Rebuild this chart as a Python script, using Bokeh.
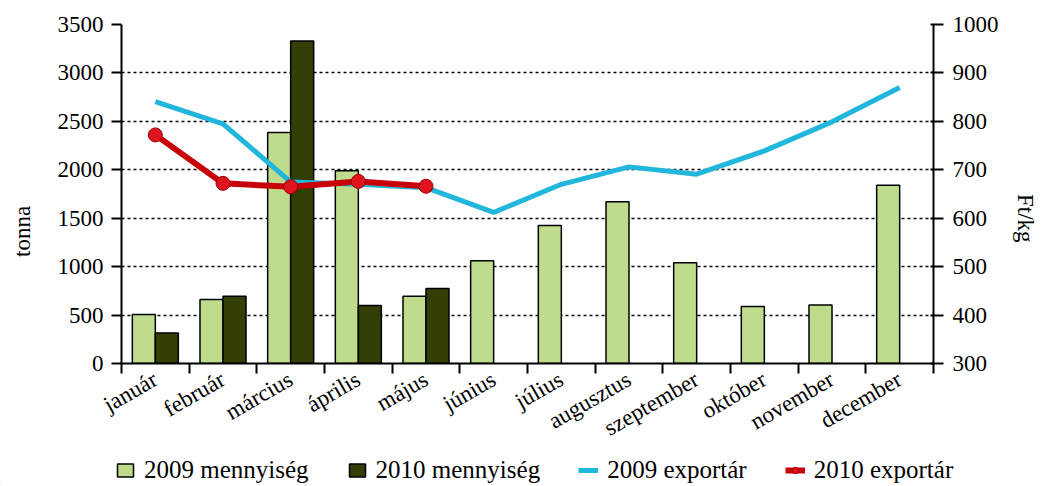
from bokeh.plotting import figure
from bokeh.models import (Range1d, LinearAxis, FixedTicker, Legend, LegendItem)
from bokeh.layouts import column, row
from bokeh.embed import file_html
from bokeh.resources import INLINE
import math

months = ["január", "február", "március", "április", "május", "június",
          "július", "augusztus", "szeptember", "október", "november", "december"]
q2009 = [505, 660, 2385, 1990, 695, 1060, 1425, 1670, 1040, 588, 605, 1840]
q2010 = [315, 695, 3330, 600, 775]
p2009 = [841, 795, 675, 670, 663, 612, 670, 706, 691, 739, 799, 870]
p2010 = [772, 672, 665, 676, 666]

left_ticks = [0, 500, 1000, 1500, 2000, 2500, 3000, 3500]
right_ticks = [300, 400, 500, 600, 700, 800, 900, 1000]
series_names = ["2009 mennyiség", "2010 mennyiség", "2009 exportár", "2010 exportár"]

FONT = "Liberation Serif"
C09Q, C10Q, C09P, C10P = "#BEDC8C", "#323F06", "#21B6DC", "#C8000A"
NB = "\u00a0" * 13

W = 1053
centers = [i + 0.5 for i in range(len(months))]
x09 = [c - 0.17 for c in centers]
x10 = [c + 0.17 for c in centers[:len(q2010)]]

p = figure(width=W, height=454, output_backend="svg", toolbar_location=None,
           x_range=Range1d(0, 12), y_range=Range1d(0, 3500),
           min_border_left=121, min_border_right=W - 937, min_border_top=24,
           min_border_bottom=91)
p.outline_line_color = None
p.extra_y_ranges = {"price": Range1d(300, 1000)}

p.xgrid.visible = False
p.ygrid.ticker = FixedTicker(ticks=left_ticks[1:])
p.ygrid.grid_line_color = "black"
p.ygrid.grid_line_dash = "3 3"
p.ygrid.grid_line_width = 1.5

p.vbar(x=x09, top=q2009, width=0.34, fill_color=C09Q, line_color="black", line_width=1.5)
p.vbar(x=x10, top=q2010, width=0.34, fill_color=C10Q, line_color="black", line_width=1.5)
p.line(x=centers, y=p2009, line_color=C09P, line_width=5, y_range_name="price")
p.line(x=centers[:len(p2010)], y=p2010, line_color=C10P, line_width=6, y_range_name="price")
p.scatter(x=centers[:len(p2010)], y=p2010, size=14, marker="circle", fill_color="#E0141E",
          line_color="#9A0008", line_width=1, y_range_name="price")

xa = p.xaxis[0]
xa.ticker = FixedTicker(ticks=centers, minor_ticks=list(range(13)))
xa.major_label_overrides = {c: m for c, m in zip(centers, months)}
xa.major_tick_out = 0
xa.major_tick_in = 0
xa.minor_tick_out = 10
xa.minor_tick_in = 0
xa.minor_tick_line_color = "black"
xa.minor_tick_line_width = 2
xa.axis_line_width = 2
xa.axis_line_color = "black"
xa.major_label_orientation = math.radians(30)
xa.major_label_text_font = FONT
xa.major_label_text_font_size = "23px"
xa.major_label_text_color = "black"
xa.major_label_standoff = 4

ya = p.yaxis[0]
ya.ticker = FixedTicker(ticks=left_ticks)
ya.major_tick_out = 10
ya.major_tick_in = 0
ya.minor_tick_line_color = None
ya.axis_line_width = 2
ya.major_tick_line_width = 2
ya.major_label_standoff = 8
ya.major_label_text_font = FONT
ya.major_label_text_font_size = "23px"
ya.major_label_text_color = "black"
ya.axis_label = "tonna" + NB
ya.axis_label_text_font = FONT
ya.axis_label_text_font_size = "23px"
ya.axis_label_text_font_style = "normal"
ya.axis_label_text_color = "black"
ya.axis_label_standoff = 20

ra = LinearAxis(y_range_name="price", ticker=FixedTicker(ticks=right_ticks))
ra.major_tick_out = 10
ra.major_tick_in = 3
ra.minor_tick_line_color = None
ra.axis_line_width = 2
ra.major_tick_line_width = 2
ra.major_label_standoff = 9
ra.major_label_text_font = FONT
ra.major_label_text_font_size = "23px"
ra.major_label_text_color = "black"
ra.axis_label = "Ft/kg" + NB
ra.axis_label_text_font = FONT
ra.axis_label_text_font_size = "23px"
ra.axis_label_text_font_style = "normal"
ra.axis_label_text_color = "black"
ra.axis_label_standoff = 24
ra.axis_label_orientation = -math.pi / 2
p.add_layout(ra, "right")

# legend strip (separate figure so the legend is not clipped by the chart frame)
LH = 31
lf = figure(width=W, height=LH, output_backend="svg", toolbar_location=None,
            x_range=Range1d(0, 10), y_range=Range1d(0, 10), x_axis_type=None, y_axis_type=None,
            min_border_left=0, min_border_right=0, min_border_top=0, min_border_bottom=0)
lf.outline_line_color = None
lf.xgrid.visible = False
lf.ygrid.visible = False
r1 = lf.vbar(x=[-5], top=[-5], width=0.1, fill_color=C09Q, line_color="black", line_width=1.5)
r2 = lf.vbar(x=[-5], top=[-5], width=0.1, fill_color=C10Q, line_color="black", line_width=1.5)
r3 = lf.line(x=[-5, -4], y=[-5, -5], line_color=C09P, line_width=5)
r4 = lf.line(x=[-5, -4], y=[-5, -5], line_color=C10P, line_width=6)
r5 = lf.scatter(x=[-5], y=[-5], size=15, marker="circle", fill_color="#E0141E",
                line_color="#9A0008", line_width=1)
legend = Legend(items=[
    LegendItem(label=series_names[0], renderers=[r1]),
    LegendItem(label=series_names[1], renderers=[r2]),
    LegendItem(label=series_names[2], renderers=[r3]),
    LegendItem(label=series_names[3], renderers=[r4, r5]),
], orientation="horizontal", location=(115, 1))
legend.label_text_font = FONT
legend.label_text_font_size = "25px"
legend.label_text_color = "black"
legend.glyph_width = 20
legend.glyph_height = 16
legend.label_standoff = 9
legend.spacing = 38
legend.padding = 0
legend.margin = 0
legend.border_line_color = None
legend.background_fill_alpha = 0
lf.add_layout(legend, "center")

layout = column(p, row(lf), spacing=0)
open("out.html", "w").write(file_html(layout, INLINE))
